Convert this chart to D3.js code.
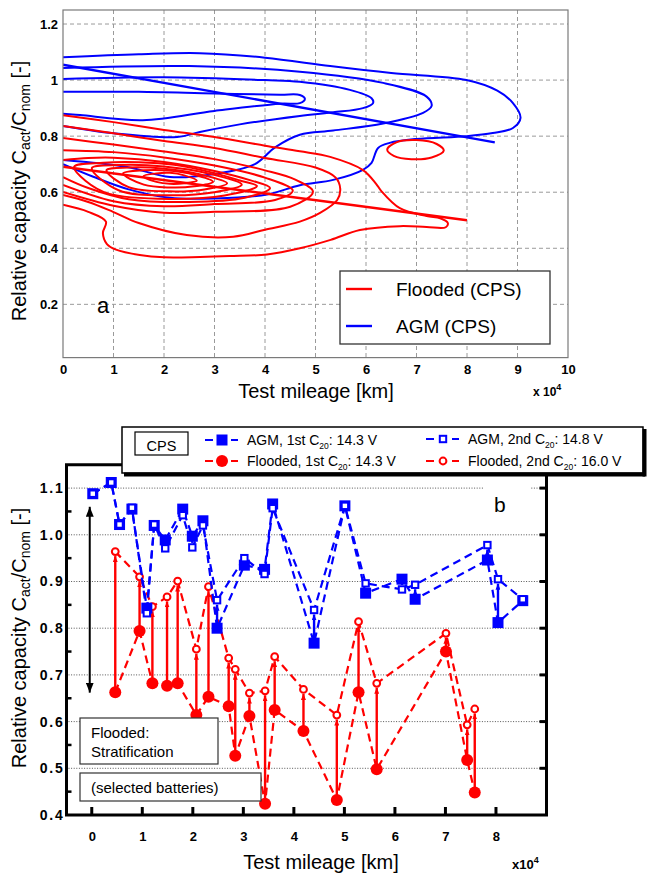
<!DOCTYPE html>
<html>
<head>
<meta charset="utf-8">
<script src="https://cdn.jsdelivr.net/npm/d3@7/dist/d3.min.js"></script>
<style>
  html, body { margin: 0; padding: 0; background: #fff; }
  svg { display: block; }
  text { font-family: "Liberation Sans", Arial, Helvetica, sans-serif; fill: #000; }
</style>
</head>
<body>
<svg id="chart" width="647" height="875"></svg>
<script>
// ================= Panel a: capacity density contours =================
const mileageTicksA = [0, 1, 2, 3, 4, 5, 6, 7, 8, 9, 10];
const capacityTicksA = [0.2, 0.4, 0.6, 0.8, 1.0, 1.2];
const capacityLabelsA = ["0.2", "0.4", "0.6", "0.8", "1", "1.2"];

// Flooded (CPS) contour rings [mileage x1e4 km, C_act/C_nom], innermost first
const floodedRing1 = [[1.59,0.657],[1.85,0.667],[2.12,0.669],[2.4,0.660],[2.65,0.641],[2.4,0.632],[2.12,0.630],[1.85,0.637]];
const floodedRing2 = [[1.19,0.667],[1.6,0.678],[2.1,0.677],[2.6,0.662],[2.97,0.637],[2.6,0.621],[2.1,0.617],[1.6,0.627]];
const floodedRing3 = [[0.86,0.678],[1.3,0.688],[2.0,0.684],[2.7,0.664],[3.25,0.632],[2.8,0.610],[2.1,0.603],[1.3,0.618]];
const floodedRing4 = [[0.57,0.686],[1.1,0.697],[2.0,0.692],[2.9,0.666],[3.54,0.627],[3.0,0.600],[2.1,0.589],[1.1,0.607]];
const floodedRing5 = [[0.22,0.690],[0.8,0.705],[1.5,0.707],[2.2,0.698],[3.0,0.668],[3.5,0.642],[3.84,0.622],[3.2,0.588],[2.1,0.576],[0.9,0.595],[0.45,0.640]];
const floodedRing6 = [[0,0.715],[0.5,0.722],[1.0,0.723],[2.0,0.708],[3.0,0.676],[3.7,0.643],[4.1,0.615],[3.6,0.580],[2.5,0.565],[1.3,0.575],[0.5,0.615],[0,0.654]];
const floodedRing7 = [[0,0.750],[1.0,0.743],[2.0,0.724],[3.0,0.695],[4.0,0.652],[4.55,0.606],[4.2,0.572],[3.0,0.558],[2.0,0.550],[1.0,0.568],[0,0.626]];
const floodedRing8 = [[0,0.793],[1.0,0.770],[2.0,0.745],[3.0,0.718],[4.0,0.678],[4.6,0.645],[4.95,0.602],[4.5,0.548],[3.0,0.530],[2.0,0.527],[1.0,0.552],[0,0.601]];
const floodedRing9 = [[0,0.836],[1.0,0.810],[2.0,0.783],[3.0,0.758],[4.0,0.722],[5.0,0.688],[5.4,0.652],[5.49,0.612],[5.43,0.572],[5.09,0.526],[4.69,0.495],[4.0,0.466],[3.37,0.441],[2.45,0.447],[1.5,0.490],[0.99,0.530],[0.5,0.565],[0,0.590]];
const floodedRing10 = [[0,0.875],[1.0,0.850],[2.0,0.822],[3.0,0.797],[4.0,0.766],[4.69,0.746],[5.29,0.726],[5.94,0.679],[6.2,0.630],[6.3,0.605],[6.67,0.543],[7.2,0.515],[7.47,0.507],[7.62,0.490],[7.58,0.475],[7.2,0.476],[6.67,0.479],[5.88,0.465],[5.3,0.430],[4.69,0.400],[4.04,0.378],[3.3,0.372],[2.71,0.369],[2.0,0.368],[1.52,0.376],[1.05,0.395],[0.87,0.415],[0.79,0.454],[0.85,0.495],[0.5,0.530],[0,0.555]];
const floodedIsland = [[6.42,0.752],[6.6,0.778],[7.0,0.786],[7.4,0.772],[7.54,0.748],[7.3,0.724],[6.9,0.718],[6.55,0.730]];
const floodedTrend = [[0, 0.691], [8, 0.500]];

// AGM (CPS) contour rings, innermost first
const agmRing1 = [[0,0.958],[1.5,0.958],[3.0,0.952],[4.3,0.948],[4.69,0.947],[4.79,0.933],[4.69,0.918],[4.3,0.916],[3.0,0.890],[1.58,0.857],[0.34,0.875],[0,0.880]];
const agmRing2 = [[0,1.004],[2.0,1.010],[4.0,1.000],[4.69,0.994],[5.68,0.965],[6.11,0.935],[6.14,0.918],[5.94,0.900],[5.35,0.885],[4.69,0.872],[3.5,0.842],[2.71,0.815],[2.26,0.797],[1.0,0.810],[0,0.836]];
const agmRing3 = [[0,1.043],[2.5,1.050],[4.69,1.030],[6.34,0.990],[7.2,0.941],[7.3,0.908],[7.13,0.883],[6.34,0.845],[5.35,0.820],[4.69,0.805],[4.2,0.760],[3.8,0.700],[3.0,0.665],[2.12,0.654],[1.27,0.690],[0,0.715]];
const agmRing4 = [[0,1.081],[1.5,1.092],[2.71,1.096],[4.0,1.080],[5.29,1.050],[6.5,1.025],[7.99,1.000],[8.6,0.962],[8.91,0.918],[9.06,0.865],[8.91,0.829],[8.51,0.811],[7.99,0.800],[7.0,0.790],[6.47,0.776],[6.24,0.758],[6.11,0.705],[5.94,0.680],[5.35,0.644],[4.69,0.625],[4.04,0.592],[3.0,0.578],[2.12,0.580],[1.3,0.610],[0.6,0.655],[0,0.700]];
const agmTrend = [[0, 1.055], [8.55, 0.778]];

// ================= Panel b: 1st / 2nd C20 capacity per battery =================
const mileageTicksB = [0, 1, 2, 3, 4, 5, 6, 7, 8];
const capacityTicksB = [0.4, 0.5, 0.6, 0.7, 0.8, 0.9, 1.0, 1.1];
const capacityLabelsB = ["0.4", "0.5", "0.6", "0.7", "0.8", "0.9", "1.0", "1.1"];

const agmMileage = [0.02, 0.386, 0.55, 0.795, 1.09, 1.236, 1.454, 1.80, 1.99, 2.20, 2.48, 3.02, 3.42, 3.58, 4.40, 5.01, 5.42, 6.14, 6.40, 7.83, 8.04, 8.53];
const agmFirst   = [1.088, 1.112, 1.022, 1.055, 0.843, 1.020, 0.989, 1.055, 0.997, 1.030, 0.800, 0.935, 0.926, 1.066, 0.768, 1.062, 0.875, 0.905, 0.862, 0.946, 0.812, 0.859];
const agmSecond  = [1.088, 1.112, 1.022, 1.058, 0.832, 1.022, 0.971, 1.042, 0.973, 1.020, 0.860, 0.950, 0.916, 1.057, 0.839, 1.062, 0.896, 0.883, 0.893, 0.978, 0.905, 0.862];

const floodedMileage = [0.465, 0.946, 1.20, 1.49, 1.70, 2.07, 2.31, 2.71, 2.84, 3.12, 3.43, 3.62, 4.19, 4.85, 5.28, 5.64, 7.01, 7.43, 7.58];
const floodedFirst   = [0.663, 0.794, 0.682, 0.677, 0.682, 0.614, 0.653, 0.633, 0.527, 0.612, 0.424, 0.625, 0.580, 0.432, 0.663, 0.498, 0.750, 0.518, 0.448];
const floodedSecond  = [0.964, 0.910, 0.846, 0.867, 0.901, 0.755, 0.889, 0.736, 0.712, 0.661, 0.666, 0.739, 0.669, 0.614, 0.814, 0.682, 0.789, 0.593, 0.627];

const RED = "#ff0000", BLUE = "#0000ff";
const svg = d3.select("#chart");
const defs = svg.append("defs");

// ---------------- helpers ----------------
function richText(sel, parts, subSize) {
  // parts: [text, mode] with mode "n" | "sub" | "sup"
  let shift = 0;
  parts.forEach(([t, mode]) => {
    const target = mode === "sub" ? 4 : mode === "sup" ? -6 : 0;
    const ts = sel.append("tspan").text(t).attr("dy", target - shift);
    if (mode !== "n") ts.attr("font-size", subSize);
    shift = target;
  });
}

// =============================== PANEL A ===============================
const xA = d3.scaleLinear().domain([0, 10]).range([63, 568]);
const yA = d3.scaleLinear().domain([0.01, 1.25]).range([357.6, 10]);
const gA = svg.append("g");

defs.append("clipPath").attr("id", "clipA").append("rect")
  .attr("x", xA(0)).attr("y", yA(1.25)).attr("width", xA(10) - xA(0)).attr("height", yA(0.01) - yA(1.25));

// dashed grid
gA.append("g").selectAll("line").data(mileageTicksA.slice(1, -1)).join("line")
  .attr("x1", d => xA(d)).attr("x2", d => xA(d)).attr("y1", yA(1.25)).attr("y2", yA(0.01))
  .attr("stroke", "#9a9a9a").attr("stroke-width", 1).attr("stroke-dasharray", "4,3");
gA.append("g").selectAll("line").data(capacityTicksA).join("line")
  .attr("x1", xA(0)).attr("x2", xA(10)).attr("y1", d => yA(d)).attr("y2", d => yA(d))
  .attr("stroke", "#9a9a9a").attr("stroke-width", 1).attr("stroke-dasharray", "4,3");

// axes (labels only)
const axA_x = gA.append("g").attr("transform", `translate(0,${yA(0.01)})`)
  .call(d3.axisBottom(xA).tickValues(mileageTicksA).tickFormat(d3.format("d")).tickSize(0).tickPadding(7));
const axA_y = gA.append("g").attr("transform", `translate(${xA(0)},0)`)
  .call(d3.axisLeft(yA).tickValues(capacityTicksA).tickFormat((d, i) => capacityLabelsA[i]).tickSize(0).tickPadding(5));
[axA_x, axA_y].forEach(ax => {
  ax.select(".domain").remove();
  ax.selectAll("text").attr("font-size", 13).attr("font-weight", "bold")
    .attr("font-family", "'Liberation Sans', Arial, sans-serif").attr("fill", "#000");
});

// contours
const lineA = d3.line().x(d => xA(d[0])).y(d => yA(d[1]));
const contourG = gA.append("g").attr("clip-path", "url(#clipA)");
function ring(pts, color, closed) {
  contourG.append("path")
    .attr("d", lineA.curve(closed ? d3.curveCatmullRomClosed.alpha(0.5) : d3.curveCatmullRom.alpha(0.5))(pts))
    .attr("fill", "none").attr("stroke", color).attr("stroke-width", 2).attr("stroke-linejoin", "round");
}
[agmRing4, agmRing3, agmRing2, agmRing1].forEach(r => ring(r, BLUE, false));
[floodedRing1, floodedRing2, floodedRing3, floodedRing4, floodedRing5].forEach(r => ring(r, RED, true));
[floodedRing6, floodedRing7, floodedRing8, floodedRing9, floodedRing10].forEach(r => ring(r, RED, false));
ring(floodedIsland, RED, true);
contourG.append("path").attr("d", lineA.curve(d3.curveLinear)(agmTrend))
  .attr("fill", "none").attr("stroke", BLUE).attr("stroke-width", 2.4);
contourG.append("path").attr("d", lineA.curve(d3.curveLinear)(floodedTrend))
  .attr("fill", "none").attr("stroke", RED).attr("stroke-width", 2.4);

// frame
gA.append("rect").attr("x", xA(0)).attr("y", yA(1.25)).attr("width", xA(10) - xA(0)).attr("height", yA(0.01) - yA(1.25))
  .attr("fill", "none").attr("stroke", "#7a7a7a").attr("stroke-width", 1.2);

// legend a
const legA = gA.append("g");
legA.append("rect").attr("x", 340).attr("y", 271).attr("width", 210).attr("height", 73)
  .attr("fill", "#fff").attr("stroke", "#333").attr("stroke-width", 1.3);
[["Flooded (CPS)", RED, 289], ["AGM (CPS)", BLUE, 326]].forEach(([t, c, y]) => {
  legA.append("line").attr("x1", 346).attr("x2", 372).attr("y1", y).attr("y2", y).attr("stroke", c).attr("stroke-width", 2.4);
  legA.append("text").attr("x", 396).attr("y", y + 7).attr("font-size", 19).text(t);
});

gA.append("text").attr("x", 97).attr("y", 313).attr("font-size", 22).text("a");

// axis titles a
gA.append("text").attr("x", 316).attr("y", 398).attr("text-anchor", "middle").attr("font-size", 20).text("Test mileage [km]");
richText(gA.append("text").attr("x", 533).attr("y", 396).attr("font-size", 12).attr("font-weight", "bold"),
  [["x 10", "n"], ["4", "sup"]], 9);
richText(gA.append("text").attr("transform", "translate(26,191) rotate(-90)").attr("text-anchor", "middle").attr("font-size", 20),
  [["Relative capacity C", "n"], ["act", "sub"], ["/C", "n"], ["nom", "sub"], [" [-]", "n"]], 14);

// =============================== PANEL B ===============================
const xB = d3.scaleLinear().domain([-0.5, 9]).range([66.5, 546.5]);
const yB = d3.scaleLinear().domain([0.4, 1.15]).range([815, 464.75]);
const gB = svg.append("g");

// dotted horizontal grid
gB.append("g").selectAll("line").data(capacityTicksB.slice(1)).join("line")
  .attr("x1", xB(-0.5) + 2).attr("x2", xB(9) - 2).attr("y1", d => yB(d)).attr("y2", d => yB(d))
  .attr("stroke", "#555").attr("stroke-width", 1).attr("stroke-dasharray", "1,1.6");

// white label field for "b"
gB.append("rect").attr("x", 483).attr("y", 483).attr("width", 47).attr("height", 36).attr("fill", "#fff");
gB.append("text").attr("x", 494).attr("y", 512).attr("font-size", 21).text("b");

// axes
const axB_x = gB.append("g").attr("transform", `translate(0,${yB(0.4)})`)
  .call(d3.axisBottom(xB).tickValues(mileageTicksB).tickFormat(d3.format("d")).tickSize(0).tickPadding(17));
const axB_y = gB.append("g").attr("transform", `translate(${xB(-0.5)},0)`)
  .call(d3.axisLeft(yB).tickValues(capacityTicksB).tickFormat((d, i) => capacityLabelsB[i]).tickSize(0).tickPadding(2));
[axB_x, axB_y].forEach(ax => {
  ax.select(".domain").remove();
  ax.selectAll("text").attr("font-size", 13).attr("font-weight", "bold")
    .attr("font-family", "'Liberation Sans', Arial, sans-serif").attr("fill", "#000");
});
axB_y.selectAll("text").attr("font-size", 14).attr("letter-spacing", 1.8);

// tick marks
gB.append("g").selectAll("line").data(mileageTicksB).join("line")
  .attr("x1", d => xB(d)).attr("x2", d => xB(d)).attr("y1", yB(0.4)).attr("y2", yB(0.4) - 8)
  .attr("stroke", "#000").attr("stroke-width", 3);
gB.append("g").selectAll("line").data(capacityTicksB.slice(1)).join("line")
  .attr("x1", xB(9)).attr("x2", xB(9) - 7).attr("y1", d => yB(d)).attr("y2", d => yB(d))
  .attr("stroke", "#000").attr("stroke-width", 3);
gB.append("g").selectAll("line").data(capacityTicksB.map(d => d + 0.05).filter(d => d < 1.12)).join("line")
  .attr("x1", xB(-0.5)).attr("x2", xB(-0.5) + 5).attr("y1", d => yB(d)).attr("y2", d => yB(d))
  .attr("stroke", "#000").attr("stroke-width", 2.5);

// frame
gB.append("path")
  .attr("d", `M${xB(-0.5)},${yB(1.15)}V${yB(0.4)}H${xB(9)}V${yB(1.15)}Z`)
  .attr("fill", "none").attr("stroke", "#000").attr("stroke-width", 3);

// arrow markers
function arrowMarker(id, color, len, wid) {
  defs.append("marker").attr("id", id).attr("markerUnits", "userSpaceOnUse")
    .attr("markerWidth", len).attr("markerHeight", wid).attr("refX", len).attr("refY", wid / 2).attr("orient", "auto")
    .append("path").attr("d", `M0,0L${len},${wid / 2}L0,${wid}Z`).attr("fill", color);
}
arrowMarker("arrRed", RED, 6, 5);
arrowMarker("arrBlue", BLUE, 6, 5);
arrowMarker("arrBlack", "#000", 10, 8);

// black double arrow at zero mileage
gB.append("line").attr("x1", xB(-0.04)).attr("x2", xB(-0.04)).attr("y1", yB(0.86)).attr("y2", yB(1.06))
  .attr("stroke", "#000").attr("stroke-width", 2).attr("marker-end", "url(#arrBlack)");
gB.append("line").attr("x1", xB(-0.04)).attr("x2", xB(-0.04)).attr("y1", yB(0.86)).attr("y2", yB(0.662))
  .attr("stroke", "#000").attr("stroke-width", 2).attr("marker-end", "url(#arrBlack)");

const lineB = d3.line().x(d => xB(d[0])).y(d => yB(d[1]));
function series(xs, ys) { return xs.map((x, i) => [x, ys[i]]); }

function drawGroup(xs, first, second, color, arrowId, shape) {
  const g = gB.append("g");
  // dashed connections per measurement
  [first, second].forEach(vals => {
    g.append("path").attr("d", lineB(series(xs, vals))).attr("fill", "none")
      .attr("stroke", color).attr("stroke-width", 2.2).attr("stroke-dasharray", "8,5");
  });
  // vertical arrows from 1st to 2nd capacity
  const gap = 4.5;
  xs.forEach((x, i) => {
    const y1 = yB(first[i]), y2 = yB(second[i]);
    if (Math.abs(y1 - y2) < 9) return;
    const dir = y2 < y1 ? 1 : -1;
    g.append("line").attr("x1", xB(x)).attr("x2", xB(x)).attr("y1", y1).attr("y2", y2 + dir * gap)
      .attr("stroke", color).attr("stroke-width", 2.4).attr("marker-end", `url(#${arrowId})`);
  });
  // markers: filled = 1st, open = 2nd
  if (shape === "circle") {
    g.selectAll(".f").data(series(xs, first)).join("circle").attr("cx", d => xB(d[0])).attr("cy", d => yB(d[1]))
      .attr("r", 6).attr("fill", color);
    g.selectAll(".o").data(series(xs, second)).join("circle").attr("cx", d => xB(d[0])).attr("cy", d => yB(d[1]))
      .attr("r", 3.4).attr("fill", "#fff").attr("stroke", color).attr("stroke-width", 2);
  } else {
    g.selectAll(".f").data(series(xs, first)).join("rect").attr("x", d => xB(d[0]) - 5.5).attr("y", d => yB(d[1]) - 5.5)
      .attr("width", 11).attr("height", 11).attr("fill", color);
    g.selectAll(".o").data(series(xs, second)).join("rect").attr("x", d => xB(d[0]) - 3.2).attr("y", d => yB(d[1]) - 3.2)
      .attr("width", 6.4).attr("height", 6.4).attr("fill", "#fff").attr("stroke", color).attr("stroke-width", 2);
  }
}
drawGroup(floodedMileage, floodedFirst, floodedSecond, RED, "arrRed", "circle");
drawGroup(agmMileage, agmFirst, agmSecond, BLUE, "arrBlue", "square");

// annotation boxes
const ann = gB.append("g");
ann.append("rect").attr("x", 80).attr("y", 718).attr("width", 138).attr("height", 46).attr("fill", "#fff").attr("stroke", "#333").attr("stroke-width", 1.2);
ann.append("text").attr("x", 91).attr("y", 738).attr("font-size", 15).text("Flooded:");
ann.append("text").attr("x", 91).attr("y", 757).attr("font-size", 15).text("Stratification");
ann.append("rect").attr("x", 80).attr("y", 773).attr("width", 181).attr("height", 28).attr("fill", "#fff").attr("stroke", "#333").attr("stroke-width", 1.2);
ann.append("text").attr("x", 91).attr("y", 793).attr("font-size", 15).text("(selected batteries)");

// legend b
const legB = gB.append("g");
legB.append("rect").attr("x", 122).attr("y", 427).attr("width", 521).attr("height", 46).attr("fill", "#fff").attr("stroke", "#000").attr("stroke-width", 1.5);
legB.append("line").attr("x1", 124).attr("x2", 645).attr("y1", 474.5).attr("y2", 474.5).attr("stroke", "#000").attr("stroke-width", 4);
legB.append("line").attr("x1", 644.5).attr("x2", 644.5).attr("y1", 429).attr("y2", 476.5).attr("stroke", "#000").attr("stroke-width", 4);
legB.append("rect").attr("x", 135).attr("y", 432).attr("width", 53).attr("height", 23).attr("fill", "#fff").attr("stroke", "#000").attr("stroke-width", 1.2);
legB.append("text").attr("x", 161.5).attr("y", 451).attr("text-anchor", "middle").attr("font-size", 14.5).text("CPS");

const legendItems = [
  { x: 222, y: 440, color: BLUE, shape: "sqF", parts: [["AGM, 1st C", "n"], ["20", "sub"], [": 14.3 V", "n"]] },
  { x: 222, y: 461, color: RED, shape: "ciF", parts: [["Flooded, 1st C", "n"], ["20", "sub"], [": 14.3 V", "n"]] },
  { x: 443, y: 439, color: BLUE, shape: "sqO", parts: [["AGM, 2nd C", "n"], ["20", "sub"], [": 14.8 V", "n"]] },
  { x: 443, y: 461, color: RED, shape: "ciO", parts: [["Flooded, 2nd C", "n"], ["20", "sub"], [": 16.0 V", "n"]] }
];
legendItems.forEach(it => {
  legB.append("line").attr("x1", it.x - 17).attr("x2", it.x + 16).attr("y1", it.y).attr("y2", it.y)
    .attr("stroke", it.color).attr("stroke-width", 2.2).attr("stroke-dasharray", "8,5");
  if (it.shape === "sqF") legB.append("rect").attr("x", it.x - 5.5).attr("y", it.y - 5.5).attr("width", 11).attr("height", 11).attr("fill", it.color);
  if (it.shape === "ciF") legB.append("circle").attr("cx", it.x).attr("cy", it.y).attr("r", 6).attr("fill", it.color);
  if (it.shape === "sqO") legB.append("rect").attr("x", it.x - 3.2).attr("y", it.y - 3.2).attr("width", 6.4).attr("height", 6.4).attr("fill", "#fff").attr("stroke", it.color).attr("stroke-width", 2);
  if (it.shape === "ciO") legB.append("circle").attr("cx", it.x).attr("cy", it.y).attr("r", 3.4).attr("fill", "#fff").attr("stroke", it.color).attr("stroke-width", 2);
  richText(legB.append("text").attr("x", it.x + 25).attr("y", it.y + 5).attr("font-size", 14), it.parts, 8.5);
});

// axis titles b
gB.append("text").attr("x", 321).attr("y", 869).attr("text-anchor", "middle").attr("font-size", 20).text("Test mileage [km]");
richText(gB.append("text").attr("x", 512).attr("y", 869).attr("font-size", 13).attr("font-weight", "bold"),
  [["x10", "n"], ["4", "sup"]], 9);
richText(gB.append("text").attr("transform", "translate(26,638) rotate(-90)").attr("text-anchor", "middle").attr("font-size", 20),
  [["Relative capacity C", "n"], ["act", "sub"], ["/C", "n"], ["nom", "sub"], [" [-]", "n"]], 14);
</script>
</body>
</html>
